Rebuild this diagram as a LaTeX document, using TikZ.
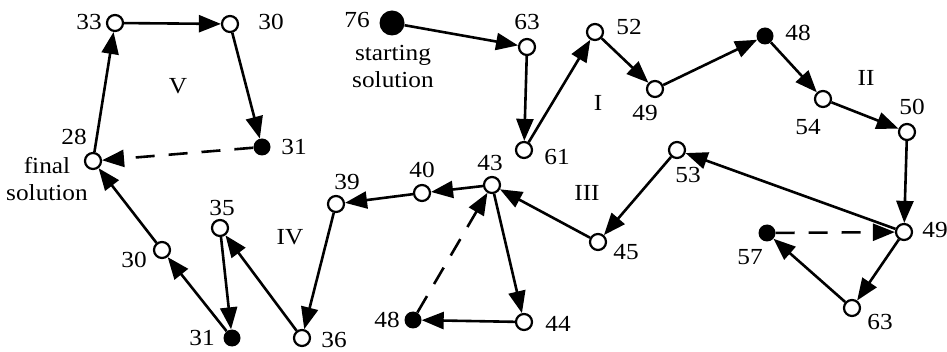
\documentclass[tikz,border=0pt]{standalone}
\usepackage{fontspec}
\setmainfont[FakeStretch=1.1]{Liberation Serif}
\usetikzlibrary{arrows.meta}

\tikzset{
  open/.style={circle, draw, fill=white, line width=2.2pt, minimum size=16pt, inner sep=0pt},
  dot/.style={circle, fill=black, minimum size=17pt, inner sep=0pt},
  bigdot/.style={circle, fill=black, minimum size=25pt, inner sep=0pt},
  lbl/.style={inner sep=0pt, font=\fontsize{23}{27}\selectfont},
  txt/.style={inner sep=0pt, align=center, font=\fontsize{23}{27}\selectfont},
  move/.style={line width=2.6pt, -{Triangle[length=22pt,width=17pt]}},
  jump/.style={move, dash pattern=on 19pt off 14pt},
}

\begin{document}
\begin{tikzpicture}[x=1pt, y=-1pt]
\useasboundingbox (0,0) rectangle (947,352);

% solution nodes
\node[bigdot] (n76)  at (392,23) {};
\node[open]   (n63a) at (527,47) {};
\node[open]   (n61)  at (524,150) {};
\node[open]   (n52)  at (595,32) {};
\node[open]   (n49a) at (655,89) {};
\node[dot]    (n48a) at (765,36) {};
\node[open]   (n54)  at (823,99) {};
\node[open]   (n50)  at (907,132) {};
\node[open]   (n49b) at (904,232) {};
\node[open]   (n53)  at (677,150) {};
\node[open]   (n63b) at (852,308) {};
\node[dot]    (n57)  at (767,233) {};
\node[open]   (n45)  at (598,242) {};
\node[open]   (n43)  at (492,185) {};
\node[open]   (n44)  at (524,322) {};
\node[dot]    (n48b) at (413,320) {};
\node[open]   (n40)  at (422,193) {};
\node[open]   (n39)  at (336,204) {};
\node[open]   (n36)  at (302,338) {};
\node[open]   (n35)  at (220,228) {};
\node[dot]    (n31b) at (232,338) {};
\node[open]   (n30b) at (162,250) {};
\node[open]   (n28)  at (93,161) {};
\node[open]   (n33)  at (115,23) {};
\node[open]   (n30a) at (230,24) {};
\node[dot]    (n31a) at (262,147) {};

% objective values
\node[lbl] (l76)  at (357,20)  {76};
\node[lbl] (l63a) at (527,22)  {63};
\node[lbl] (l61)  at (557,157) {61};
\node[lbl] (l52)  at (629,27)  {52};
\node[lbl] (l49a) at (645,113) {49};
\node[lbl] (l48a) at (798,33)  {48};
\node[lbl] (l54)  at (808,127) {54};
\node[lbl] (l50)  at (912,107) {50};
\node[lbl] (l53)  at (688,175) {53};
\node[lbl] (l49b) at (935,230) {49};
\node[lbl] (l57)  at (750,257) {57};
\node[lbl] (l63b) at (880,322) {63};
\node[lbl] (l45)  at (626,252) {45};
\node[lbl] (l44)  at (558,324) {44};
\node[lbl] (l48b) at (387,320) {48};
\node[lbl] (l43)  at (490,163) {43};
\node[lbl] (l40)  at (422,170) {40};
\node[lbl] (l39)  at (347,182) {39};
\node[lbl] (l36)  at (334,340) {36};
\node[lbl] (l35)  at (222,208) {35};
\node[lbl] (l31b) at (202,338) {31};
\node[lbl] (l30b) at (134,260) {30};
\node[lbl] (l28)  at (74,137)  {28};
\node[lbl] (l33)  at (89,22)   {33};
\node[lbl] (l30a) at (271,22)  {30};
\node[lbl] (l31a) at (294,147) {31};

% phase numerals and captions
\node[txt] (pI)   at (598,103) {I};
\node[txt] (pII)  at (866,78)  {II};
\node[txt] (pIII) at (587,193) {III};
\node[txt] (pIV)  at (290,237) {IV};
\node[txt] (pV)   at (178,86)  {V};
\node[txt] (start) at (393,67) {starting\\solution};
\node[txt] (final) at (47,179) {final\\solution};

% search moves
\draw[move] (n76) -- (n63a);
\draw[move] (n63a) -- (n61);
\draw[move] (n61) -- (n52);
\draw[move] (n52) -- (n49a);
\draw[move] (n49a) -- (n48a);
\draw[move] (n48a) -- (n54);
\draw[move] (n54) -- (n50);
\draw[move] (n50) -- (n49b);
\draw[move] (n49b) -- (n63b);
\draw[move] (n63b) -- (n57);
\draw[jump] (n57) -- (n49b);
\draw[move] (n49b) -- (n53);
\draw[move] (n53) -- (n45);
\draw[move] (n45) -- (n43);
\draw[move] (n43) -- (n44);
\draw[move] (n44) -- (n48b);
\draw[jump] (n48b) -- (n43);
\draw[move] (n43) -- (n40);
\draw[move] (n40) -- (n39);
\draw[move] (n39) -- (n36);
\draw[move] (n36) -- (n35);
\draw[move] (n35) -- (n31b);
\draw[move] (n31b) -- (n30b);
\draw[move] (n30b) -- (n28);
\draw[move] (n28) -- (n33);
\draw[move] (n33) -- (n30a);
\draw[move] (n30a) -- (n31a);
\draw[jump] (n31a) -- (n28);
\end{tikzpicture}
\end{document}
